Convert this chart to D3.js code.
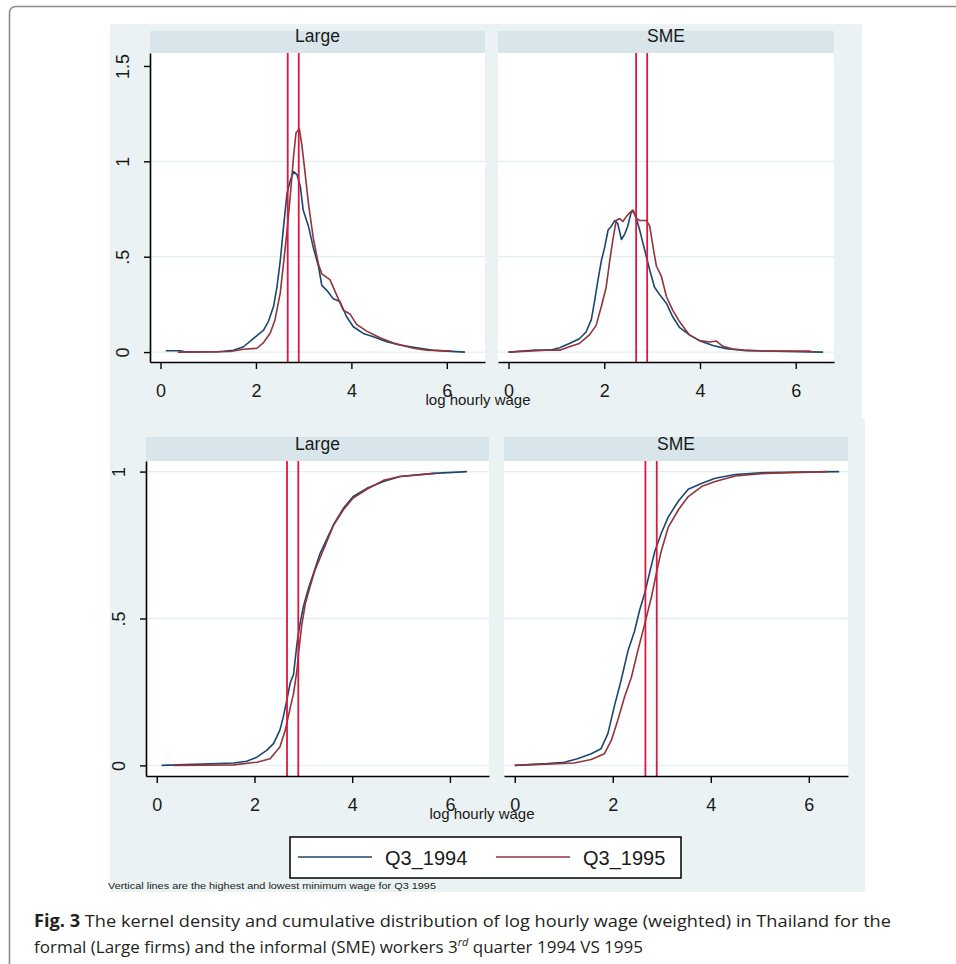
<!DOCTYPE html>
<html>
<head>
<meta charset="utf-8">
<script src="https://cdn.jsdelivr.net/npm/d3@7"></script>
<style>
  body { margin: 0; background: #fff; }
  svg { display: block; }
</style>
</head>
<body>
<div id="chart"></div>
<script>
// ---- data (x = log hourly wage) ----
const seriesNames = ["Q3_1994", "Q3_1995"];
const panelTitles = ["Large", "SME"];
const xTickValues = [0, 2, 4, 6];
const densityTickValues = [0, 0.5, 1, 1.5];
const densityTickLabels = ["0", ".5", "1", "1.5"];
const cdfTickValues = [0, 0.5, 1];
const cdfTickLabels = ["0", ".5", "1"];
const minWage1995 = [2.666, 2.897]; // lowest and highest minimum wage, Q3 1995

// kernel density, Large firms
const kdLarge1994 = [[0.11,0.007],[0.43,0.007],[0.5,0.002],[1.2,0.002],[1.53,0.01],[1.74,0.028],[1.95,0.072],[2.16,0.115],[2.26,0.16],[2.37,0.24],[2.44,0.34],[2.51,0.48],[2.58,0.66],[2.65,0.83],[2.72,0.9],[2.79,0.946],[2.86,0.93],[2.93,0.87],[2.99,0.745],[3.1,0.66],[3.2,0.55],[3.31,0.45],[3.38,0.35],[3.48,0.325],[3.62,0.28],[3.76,0.265],[3.9,0.185],[4.04,0.133],[4.25,0.098],[4.46,0.08],[4.74,0.054],[5.02,0.037],[5.37,0.023],[5.72,0.01],[6.0,0.005],[6.38,0.0]];
const kdLarge1995 = [[0.36,0.0],[1.0,0.001],[1.46,0.003],[1.74,0.015],[2.02,0.02],[2.16,0.05],[2.3,0.1],[2.4,0.17],[2.51,0.31],[2.58,0.47],[2.65,0.63],[2.72,0.82],[2.79,1.03],[2.84,1.15],[2.91,1.17],[2.96,1.09],[3.03,0.94],[3.1,0.78],[3.2,0.6],[3.31,0.46],[3.38,0.41],[3.55,0.38],[3.69,0.3],[3.83,0.22],[3.97,0.2],[4.11,0.145],[4.32,0.11],[4.6,0.075],[4.88,0.047],[5.3,0.02],[5.58,0.01],[6.1,0.005]];

// kernel density, SME
const kdSME1994 = [[0.0,0.0],[0.51,0.01],[0.86,0.01],[1.07,0.023],[1.27,0.045],[1.48,0.07],[1.62,0.105],[1.73,0.17],[1.8,0.27],[1.87,0.38],[1.94,0.48],[2.01,0.55],[2.08,0.64],[2.15,0.66],[2.22,0.69],[2.28,0.675],[2.36,0.59],[2.43,0.62],[2.49,0.66],[2.56,0.73],[2.61,0.74],[2.67,0.7],[2.74,0.64],[2.81,0.57],[2.88,0.5],[2.95,0.43],[3.05,0.34],[3.16,0.3],[3.3,0.255],[3.43,0.185],[3.57,0.13],[3.78,0.09],[3.99,0.06],[4.27,0.035],[4.55,0.018],[4.97,0.007],[6.57,0.0]];
const kdSME1995 = [[0.0,0.0],[0.79,0.01],[1.07,0.01],[1.27,0.028],[1.48,0.045],[1.69,0.09],[1.83,0.14],[1.94,0.24],[2.04,0.34],[2.11,0.47],[2.18,0.59],[2.25,0.69],[2.32,0.7],[2.39,0.685],[2.46,0.71],[2.53,0.73],[2.6,0.745],[2.67,0.7],[2.74,0.69],[2.88,0.69],[2.95,0.66],[3.02,0.55],[3.09,0.45],[3.19,0.4],[3.3,0.29],[3.43,0.22],[3.57,0.16],[3.78,0.09],[3.99,0.06],[4.2,0.053],[4.34,0.058],[4.48,0.03],[4.69,0.016],[4.97,0.01],[5.39,0.005],[6.29,0.005],[6.36,0.0]];

// cumulative distribution, Large firms
const cdfLarge1994 = [[0.1,0.0],[1.57,0.008],[1.84,0.014],[2.05,0.028],[2.25,0.051],[2.39,0.074],[2.52,0.12],[2.59,0.165],[2.66,0.22],[2.73,0.28],[2.8,0.31],[2.87,0.415],[2.93,0.48],[3.0,0.54],[3.1,0.6],[3.21,0.655],[3.34,0.72],[3.48,0.77],[3.62,0.82],[3.82,0.875],[4.02,0.915],[4.3,0.943],[4.64,0.966],[4.98,0.983],[5.66,0.994],[6.35,1.0]];
const cdfLarge1995 = [[0.34,0.0],[1.57,0.002],[2.05,0.011],[2.32,0.023],[2.52,0.0625],[2.63,0.12],[2.69,0.165],[2.8,0.245],[2.87,0.324],[2.9,0.38],[2.97,0.48],[3.04,0.55],[3.14,0.61],[3.24,0.665],[3.41,0.733],[3.62,0.818],[3.82,0.87],[4.02,0.91],[4.3,0.94],[4.64,0.97],[4.98,0.983],[5.7,0.994]];

// cumulative distribution, SME
const cdfSME1994 = [[0.0,0.0],[0.67,0.006],[1.01,0.011],[1.28,0.023],[1.56,0.04],[1.76,0.057],[1.9,0.108],[2.03,0.2],[2.17,0.29],[2.31,0.39],[2.44,0.455],[2.55,0.53],[2.65,0.585],[2.75,0.655],[2.86,0.73],[2.99,0.79],[3.13,0.845],[3.34,0.9],[3.54,0.94],[3.82,0.96],[4.09,0.977],[4.5,0.99],[5.12,0.997],[6.62,1.0]];
const cdfSME1995 = [[0.0,0.0],[1.21,0.008],[1.56,0.02],[1.83,0.04],[1.97,0.085],[2.1,0.153],[2.24,0.233],[2.38,0.3],[2.51,0.39],[2.65,0.48],[2.79,0.574],[2.89,0.655],[2.99,0.73],[3.13,0.81],[3.34,0.87],[3.54,0.915],[3.82,0.95],[4.09,0.966],[4.5,0.985],[5.12,0.994],[6.38,1.0]];

// ---- style ----
const width = 956, height = 964;
const seriesColors = ["#1a476f", "#90353b"];
const vlineColor = "#d81a40";
const graphBg = "#eaf2f3";
const stripBg = "#d8e5eb";
const gridColor = "#e4eef1";
const tickFont = '"Liberation Sans", Arial, sans-serif';

const svg = d3.select("#chart")
    .append("svg")
    .attr("width", width)
    .attr("height", height);

// outer frame of the figure
svg.append("rect")
    .attr("x", 9.5).attr("y", 6.5)
    .attr("width", 1000).attr("height", 1000)
    .attr("rx", 6)
    .attr("fill", "none")
    .attr("stroke", "#8c8c8c")
    .attr("stroke-width", 1.6);

// graph regions (top: densities, bottom: cdfs)
svg.append("rect").attr("x", 110).attr("y", 24).attr("width", 752).attr("height", 395).attr("fill", graphBg);
svg.append("rect").attr("x", 110).attr("y", 418).attr("width", 755).attr("height", 474).attr("fill", graphBg);

const xDomain = [-0.22, 6.8];

const panels = [
    { title: panelTitles[0], left: 150, right: 485, stripTop: 31, top: 53, bottom: 362,
      yDomain: [-0.052, 1.568], yTicks: densityTickValues, yLabels: densityTickLabels,
      yAxis: true, series: [kdLarge1994, kdLarge1995] },
    { title: panelTitles[1], left: 498, right: 834, stripTop: 31, top: 53, bottom: 362,
      yDomain: [-0.052, 1.568], yTicks: densityTickValues, yLabels: densityTickLabels,
      yAxis: false, series: [kdSME1994, kdSME1995] },
    { title: panelTitles[0], left: 146, right: 489, stripTop: 437, top: 461, bottom: 776,
      yDomain: [-0.036, 1.036], yTicks: cdfTickValues, yLabels: cdfTickLabels,
      yAxis: true, series: [cdfLarge1994, cdfLarge1995] },
    { title: panelTitles[1], left: 504, right: 848, stripTop: 437, top: 461, bottom: 776,
      yDomain: [-0.036, 1.036], yTicks: cdfTickValues, yLabels: cdfTickLabels,
      yAxis: false, series: [cdfSME1994, cdfSME1995] }
];

const drawPanel = (p) => {
    const xScale = d3.scaleLinear().domain(xDomain).range([p.left, p.right]);
    const yScale = d3.scaleLinear().domain(p.yDomain).range([p.bottom, p.top]);
    const g = svg.append("g");

    // strip with the panel title
    g.append("rect")
        .attr("x", p.left).attr("y", p.stripTop)
        .attr("width", p.right - p.left).attr("height", p.top - p.stripTop)
        .attr("fill", stripBg);
    g.append("text")
        .text(p.title)
        .attr("x", (p.left + p.right) / 2)
        .attr("y", p.top - 11)
        .attr("text-anchor", "middle")
        .attr("font-family", tickFont)
        .attr("font-size", 17.5)
        .attr("fill", "#1a1a1a");

    // plot region
    g.append("rect")
        .attr("x", p.left).attr("y", p.top)
        .attr("width", p.right - p.left).attr("height", p.bottom - p.top)
        .attr("fill", "#fff");

    // grid lines (not at the top tick of the density panels)
    g.selectAll(".grid")
        .data(p.yTicks.filter(v => v <= 1))
        .join("line")
        .attr("x1", p.left).attr("x2", p.right)
        .attr("y1", d => yScale(d)).attr("y2", d => yScale(d))
        .attr("stroke", gridColor)
        .attr("stroke-width", 1.3);

    // the two curves
    const line = d3.line()
        .x(d => xScale(d[0]))
        .y(d => yScale(d[1]));
    g.selectAll(".curve")
        .data(p.series)
        .join("path")
        .attr("d", line)
        .attr("fill", "none")
        .attr("stroke", (d, i) => seriesColors[i])
        .attr("stroke-width", 1.6)
        .attr("stroke-linejoin", "round");

    // minimum wage lines
    g.selectAll(".vline")
        .data(minWage1995)
        .join("line")
        .attr("x1", d => xScale(d)).attr("x2", d => xScale(d))
        .attr("y1", p.top).attr("y2", p.bottom)
        .attr("stroke", vlineColor)
        .attr("stroke-width", 1.8);

    // x axis
    const bottomAxis = d3.axisBottom(xScale)
        .tickValues(xTickValues)
        .tickFormat(d3.format("d"))
        .tickSize(7)
        .tickSizeOuter(0)
        .tickPadding(15);
    const xg = g.append("g")
        .attr("transform", `translate(0, ${p.bottom})`)
        .call(bottomAxis);
    xg.select(".domain").attr("stroke", "#000").attr("stroke-width", 1.6);
    xg.selectAll(".tick line").attr("stroke", "#000").attr("stroke-width", 1.4);
    xg.selectAll(".tick text")
        .attr("font-family", tickFont)
        .attr("font-size", 18)
        .attr("fill", "#1a1a1a");

    // y axis (left panels only), labels rotated as in Stata
    if (p.yAxis) {
        const leftAxis = d3.axisLeft(yScale)
            .tickValues(p.yTicks)
            .tickFormat((d, i) => p.yLabels[i])
            .tickSize(6)
            .tickSizeOuter(0);
        const yg = g.append("g")
            .attr("transform", `translate(${p.left}, 0)`)
            .call(leftAxis);
        yg.select(".domain").attr("stroke", "#000").attr("stroke-width", 1.6);
        yg.selectAll(".tick line").attr("stroke", "#000").attr("stroke-width", 1.4);
        yg.selectAll(".tick text")
            .attr("x", null).attr("dy", null)
            .attr("text-anchor", "middle")
            .attr("transform", "translate(-21, 0) rotate(-90)")
            .attr("font-family", tickFont)
            .attr("font-size", 18)
            .attr("fill", "#1a1a1a");
    }
};

panels.forEach(drawPanel);

// shared x-axis titles
const xTitles = [{ x: 478, y: 405 }, { x: 482, y: 819 }];
svg.selectAll(".xtitle")
    .data(xTitles)
    .join("text")
    .text("log hourly wage")
    .attr("x", d => d.x)
    .attr("y", d => d.y)
    .attr("text-anchor", "middle")
    .attr("font-family", tickFont)
    .attr("font-size", 15)
    .attr("fill", "#1a1a1a");

// legend
const legend = svg.append("g");
legend.append("rect")
    .attr("x", 290).attr("y", 837)
    .attr("width", 391).attr("height", 41)
    .attr("fill", "#fff")
    .attr("stroke", "#000")
    .attr("stroke-width", 1.5);
const legendX = [298, 496];
const item = legend.selectAll(".item")
    .data(seriesNames)
    .join("g")
    .attr("transform", (d, i) => `translate(${legendX[i]}, 857)`);
item.append("line")
    .attr("x1", 0).attr("x2", 74)
    .attr("stroke", (d, i) => seriesColors[i])
    .attr("stroke-width", 1.6);
item.append("text")
    .text(d => d)
    .attr("x", 87)
    .attr("y", 8)
    .attr("font-family", tickFont)
    .attr("font-size", 20)
    .attr("fill", "#1a1a1a");

// note under the graph
svg.append("text")
    .text("Vertical lines are the highest and lowest minimum wage for Q3 1995")
    .attr("x", 108)
    .attr("y", 889)
    .attr("font-family", tickFont)
    .attr("font-size", 9)
    .attr("textLength", 328)
    .attr("lengthAdjust", "spacingAndGlyphs")
    .attr("fill", "#222");

// figure caption
const capFont = '"Open Sans", "Noto Sans", sans-serif';
const cap1 = svg.append("text")
    .attr("x", 34).attr("y", 927)
    .attr("font-family", capFont)
    .attr("font-size", 17)
    .attr("fill", "#231f20")
    .attr("textLength", 857)
    .attr("lengthAdjust", "spacingAndGlyphs");
cap1.append("tspan").attr("font-weight", "bold").text("Fig. 3");
cap1.append("tspan").text("  The kernel density and cumulative distribution of log hourly wage (weighted) in Thailand for the");

const cap2 = svg.append("text")
    .attr("x", 34).attr("y", 953)
    .attr("font-family", capFont)
    .attr("font-size", 17)
    .attr("fill", "#231f20");
cap2.append("tspan").text("formal (Large firms) and the informal (SME) workers 3");
cap2.append("tspan").attr("font-style", "italic").attr("font-size", 11).attr("dy", -7).text("rd");
cap2.append("tspan").attr("dy", 7).text(" quarter 1994 VS 1995");
</script>
</body>
</html>
